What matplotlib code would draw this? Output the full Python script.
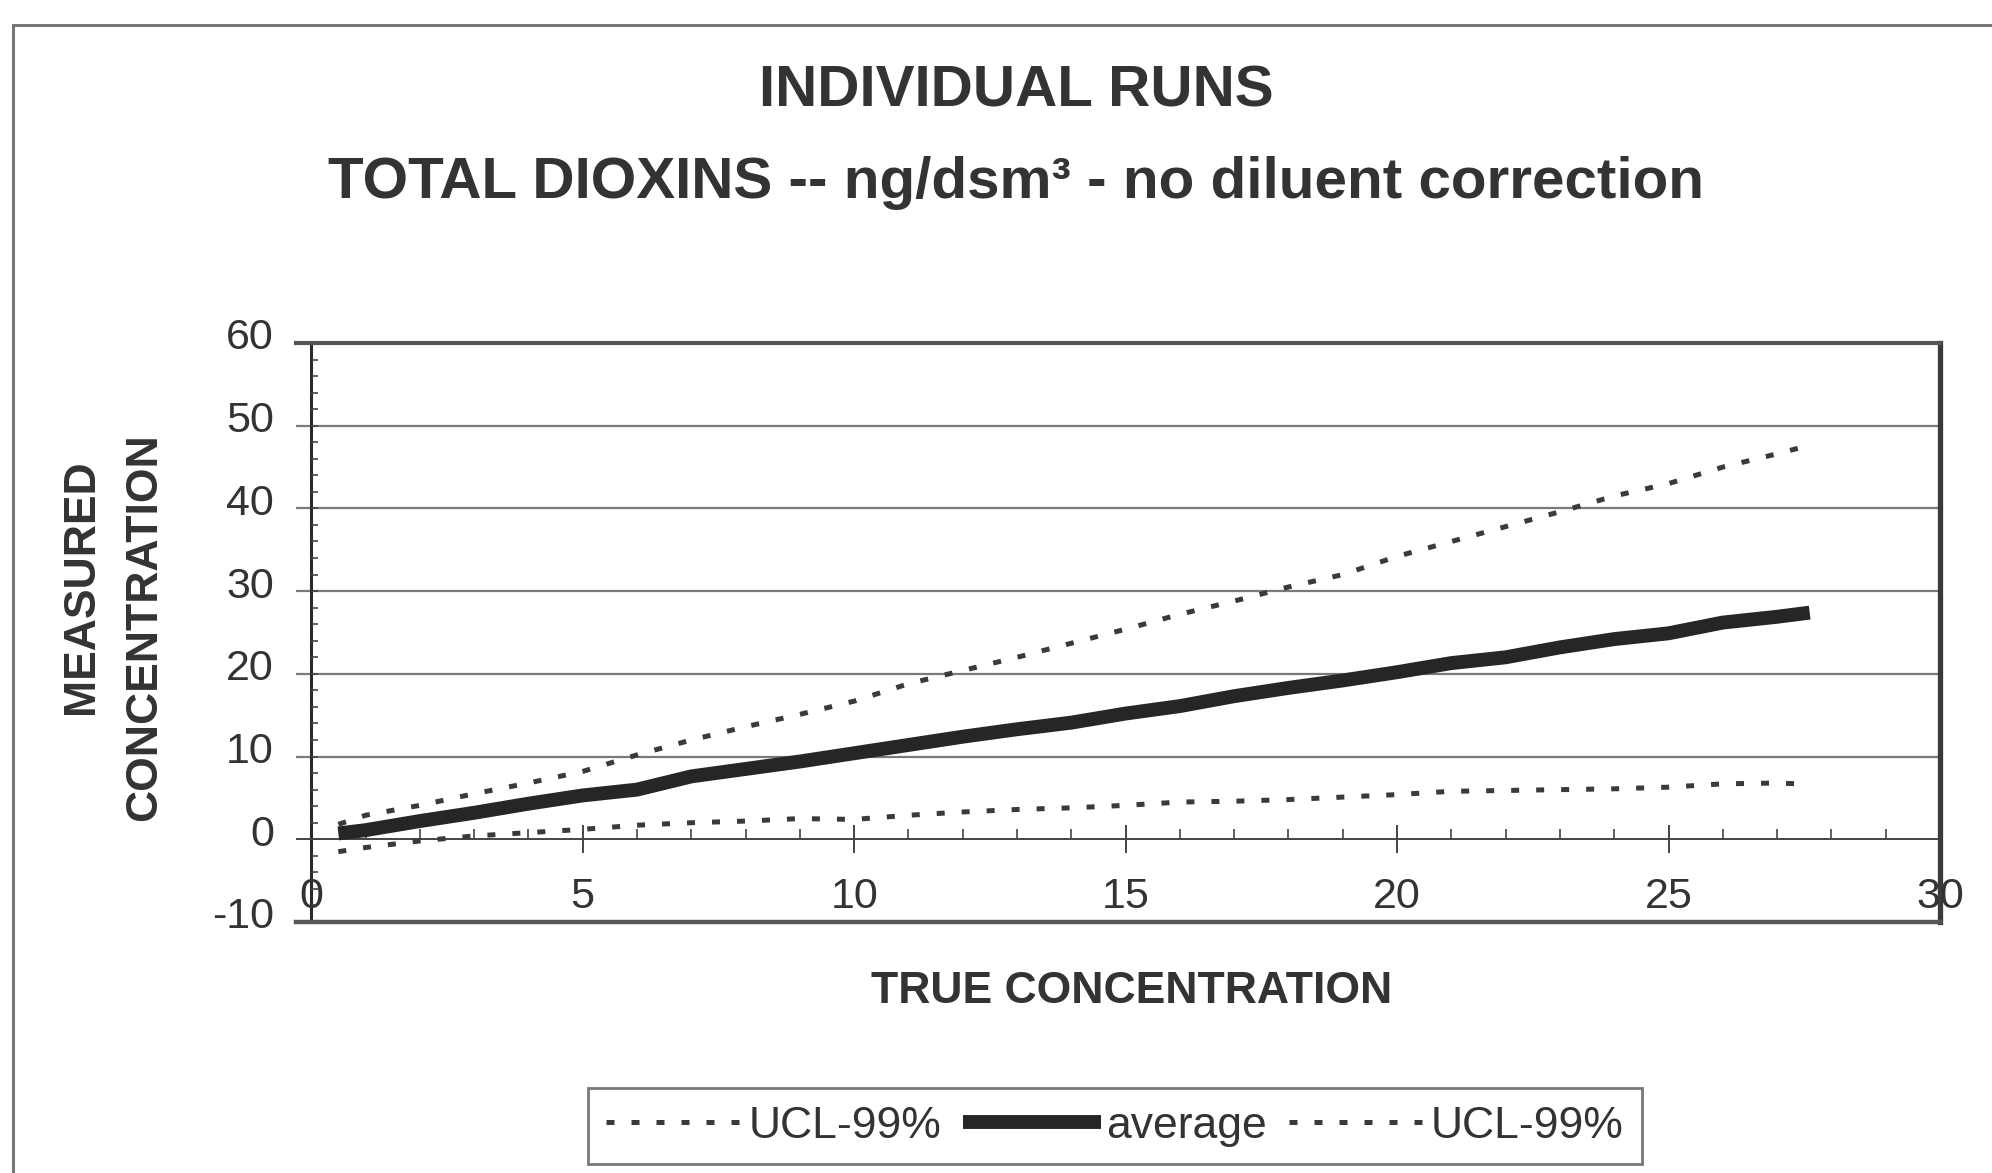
import numpy as np
import matplotlib
matplotlib.use('Agg')
import matplotlib.pyplot as plt
from matplotlib.lines import Line2D
from matplotlib.transforms import ScaledTranslation

plt.rcParams['font.family'] = ['Liberation Sans', 'DejaVu Sans']

# values
true_conc = [0.5, 1, 2, 3, 4, 5, 6, 7, 8, 9, 10, 11, 12, 13, 14, 15, 16, 17, 18, 19,
             20, 21, 22, 23, 24, 25, 26, 27, 27.4]
ucl_upper = [1.8, 2.9, 4.1, 5.5, 6.8, 8.2, 10.2, 12.0, 13.6, 15.1, 16.7, 18.8, 20.4, 22.0,
             23.7, 25.4, 27.2, 28.8, 30.5, 32.0, 34.2, 36.0, 37.8, 39.6, 41.5, 43.0, 45.0,
             46.6, 47.3]
avg_conc = [0.5, 1, 2, 3, 4, 5, 6, 7, 8, 9, 10, 11, 12, 13, 14, 15, 16, 17, 18, 19,
            20, 21, 22, 23, 24, 25, 26, 27, 27.6]
average = [0.7, 1.1, 2.2, 3.2, 4.3, 5.3, 6.0, 7.6, 8.5, 9.4, 10.4, 11.4, 12.4, 13.3, 14.1,
           15.2, 16.1, 17.3, 18.3, 19.2, 20.2, 21.3, 22.0, 23.2, 24.2, 24.9, 26.2, 26.9, 27.4]
ucl_lower = [-1.5, -1.0, -0.2, 0.4, 0.8, 1.2, 1.7, 2.0, 2.2, 2.5, 2.4, 2.9, 3.3, 3.6, 3.8,
             4.1, 4.5, 4.6, 4.8, 5.1, 5.4, 5.8, 5.9, 6.0, 6.1, 6.3, 6.7, 6.8, 6.7]

y_ticks = [-10, 0, 10, 20, 30, 40, 50, 60]
x_ticks = [0, 5, 10, 15, 20, 25, 30]

ink = '#333333'
dotted = (0, (1.6, 3.4))

fig = plt.figure(figsize=(19.92, 11.73), dpi=100)

# scanned page frame (left + top edge)
fig.add_artist(Line2D([0.0065, 0.0065], [0, 0.979], transform=fig.transFigure,
                      color='#777777', lw=2.2))
fig.add_artist(Line2D([0.0065, 1.0], [0.979, 0.979], transform=fig.transFigure,
                      color='#777777', lw=2.2))

ax = fig.add_axes([0.1486, 0.214, 0.8253, 0.4936])
ax.set_xlim(-0.28, 30)
ax.set_ylim(-10, 60)

ax.spines['left'].set_visible(False)
ax.spines['top'].set_color('#555555')
ax.spines['top'].set_linewidth(3)
ax.spines['bottom'].set_color('#555555')
ax.spines['bottom'].set_linewidth(3.2)
ax.spines['right'].set_color('#3a3a3a')
ax.spines['right'].set_linewidth(3.8)

# horizontal gridlines
for v in y_ticks[2:-1]:
    ax.axhline(v, color='#7a7a7a', lw=1.6, zorder=1)

# y axis at x=0 with small ticks
ax.axvline(0, color='#2a2a2a', lw=2.2, zorder=2)
ax.hlines(np.arange(-8, 60, 2), 0, 0.12, color='#444444', lw=1.2, zorder=2)

# x axis at y=0 with ticks
ax.axhline(0, color='#444444', lw=1.4, zorder=2)
minor_x = [v for v in range(1, 30) if v % 5 != 0]
ax.vlines(minor_x, 0, 1.3, color='#444444', lw=1.2, zorder=2)
ax.vlines(x_ticks[1:-1], -1.7, 1.7, color='#444444', lw=1.4, zorder=2)

ax.set_xticks([])
ax.set_yticks(y_ticks)
ax.set_yticklabels([str(v) for v in y_ticks], fontsize=31, color=ink)
ax.tick_params(axis='y', length=0, pad=16)
for lbl in ax.get_yticklabels():
    lbl.set_transform(lbl.get_transform() + ScaledTranslation(0, 0.09, fig.dpi_scale_trans))

for v in x_ticks:
    ax.text(v, -7.0, str(v), ha='center', va='center', fontsize=31, color=ink)

ax.plot(true_conc, ucl_upper, color='#3a3a3a', lw=3.6, linestyle=dotted,
        label='UCL-99%', zorder=3)
ax.plot(avg_conc, average, color='#262626', lw=10, solid_capstyle='butt',
        label='average', zorder=4)
ax.plot(true_conc, ucl_lower, color='#3a3a3a', lw=3.6, linestyle=dotted,
        label='UCL-99%', zorder=3)

# titles and axis labels
fig.text(0.51, 0.922, 'INDIVIDUAL RUNS', ha='center', va='center', fontsize=42,
         fontweight='bold', color=ink)
fig.text(0.51, 0.844, 'TOTAL DIOXINS -- ng/dsm³ - no diluent correction', ha='center',
         va='center', fontsize=42, fontweight='bold', color=ink)
fig.text(0.041, 0.50, 'MEASURED', rotation=90, ha='center', va='center', fontsize=32,
         fontweight='bold', color=ink)
fig.text(0.0725, 0.631, 'CONCENTRATION', rotation=90, ha='center', va='top', fontsize=32,
         fontweight='bold', color=ink)
fig.text(0.568, 0.1545, 'TRUE CONCENTRATION', ha='center', va='center', fontsize=32,
         fontweight='bold', color=ink)

leg = fig.legend(loc='center', bbox_to_anchor=(0.5597, 0.040), ncol=3, fontsize=32,
                 frameon=True, fancybox=False, handlelength=3.1, handletextpad=0.1,
                 columnspacing=0.5, borderpad=0.4, labelcolor=ink)
leg.get_frame().set_edgecolor('#555555')
leg.get_frame().set_linewidth(2)

fig.savefig('out.png', dpi=100, facecolor='white')
